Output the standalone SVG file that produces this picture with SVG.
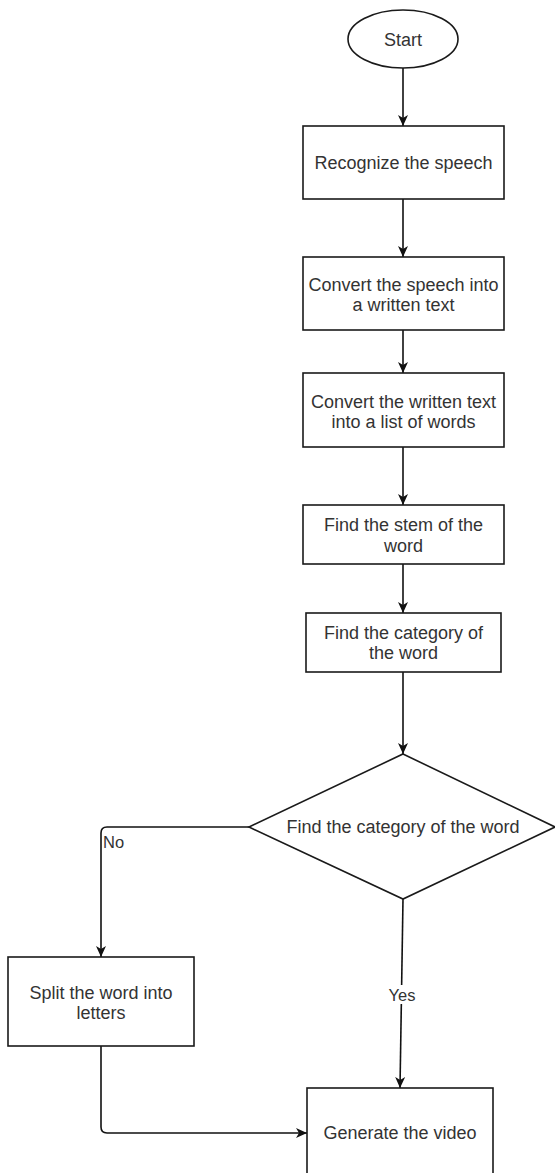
<svg xmlns="http://www.w3.org/2000/svg" width="555" height="1173" viewBox="0 0 555 1173">
<style>
.shape{fill:#ffffff;stroke:#1a1a1a;stroke-width:1.6}
.lbl{font-family:"Liberation Sans",Arial,sans-serif;font-size:18px;fill:#333333;text-anchor:middle}
.elbl{font-family:"Liberation Sans",Arial,sans-serif;font-size:16.5px;fill:#333333}
.conn{fill:none;stroke:#111111;stroke-width:1.6}
</style>
<defs>
<marker id="arr" markerUnits="userSpaceOnUse" markerWidth="12" markerHeight="12" refX="11" refY="6" orient="auto">
<path d="M0,1 L11,6 L0,11 L3,6 Z" fill="#111111"/>
</marker>
</defs>
<rect x="0" y="0" width="555" height="1173" fill="#ffffff"/>
<g id="connectors">
<path class="conn" d="M403,68 V126" marker-end="url(#arr)"/>
<path class="conn" d="M403,199 V257" marker-end="url(#arr)"/>
<path class="conn" d="M403,330 V373" marker-end="url(#arr)"/>
<path class="conn" d="M403,447 V505" marker-end="url(#arr)"/>
<path class="conn" d="M403,564 V613" marker-end="url(#arr)"/>
<path class="conn" d="M403,672 V754" marker-end="url(#arr)"/>
<path class="conn" d="M249,827 H107 Q101,827 101,833 V957" marker-end="url(#arr)"/>
<path class="conn" d="M403,899 L400,1088" marker-end="url(#arr)"/>
<path class="conn" d="M101,1046 V1127 Q101,1133 107,1133 H307" marker-end="url(#arr)"/>
<text class="elbl" x="103" y="848">No</text>
<rect x="388" y="985" width="28" height="19" fill="#ffffff"/>
<text class="elbl" x="402" y="1001" text-anchor="middle">Yes</text>
</g>
<g id="start">
<ellipse class="shape" cx="403" cy="39" rx="55" ry="29"/>
<text class="lbl" x="403" y="46">Start</text>
</g>
<g id="recognize">
<rect class="shape" x="303" y="126" width="201" height="73"/>
<text class="lbl" x="403.5" y="169">Recognize the speech</text>
</g>
<g id="convert-speech">
<rect class="shape" x="303" y="257" width="201" height="73"/>
<text class="lbl" x="403.5" y="291">Convert the speech into</text>
<text class="lbl" x="403.5" y="311">a written text</text>
</g>
<g id="convert-text">
<rect class="shape" x="303" y="373" width="201" height="74"/>
<text class="lbl" x="403.5" y="408">Convert the written text</text>
<text class="lbl" x="403.5" y="428">into a list of words</text>
</g>
<g id="find-stem">
<rect class="shape" x="303" y="505" width="201" height="59"/>
<text class="lbl" x="403.5" y="531">Find the stem of the</text>
<text class="lbl" x="403.5" y="552">word</text>
</g>
<g id="find-category">
<rect class="shape" x="306" y="613" width="195" height="59"/>
<text class="lbl" x="403.5" y="639">Find the category of</text>
<text class="lbl" x="403.5" y="659">the word</text>
</g>
<g id="decision">
<polygon class="shape" points="403,754 555,827 403,899 249,827"/>
<text class="lbl" x="403" y="833">Find the category of the word</text>
</g>
<g id="split">
<rect class="shape" x="8" y="957" width="186" height="89"/>
<text class="lbl" x="101" y="999">Split the word into</text>
<text class="lbl" x="101" y="1019">letters</text>
</g>
<g id="generate">
<rect class="shape" x="307" y="1088" width="186" height="90"/>
<text class="lbl" x="400" y="1139">Generate the video</text>
</g>
</svg>
